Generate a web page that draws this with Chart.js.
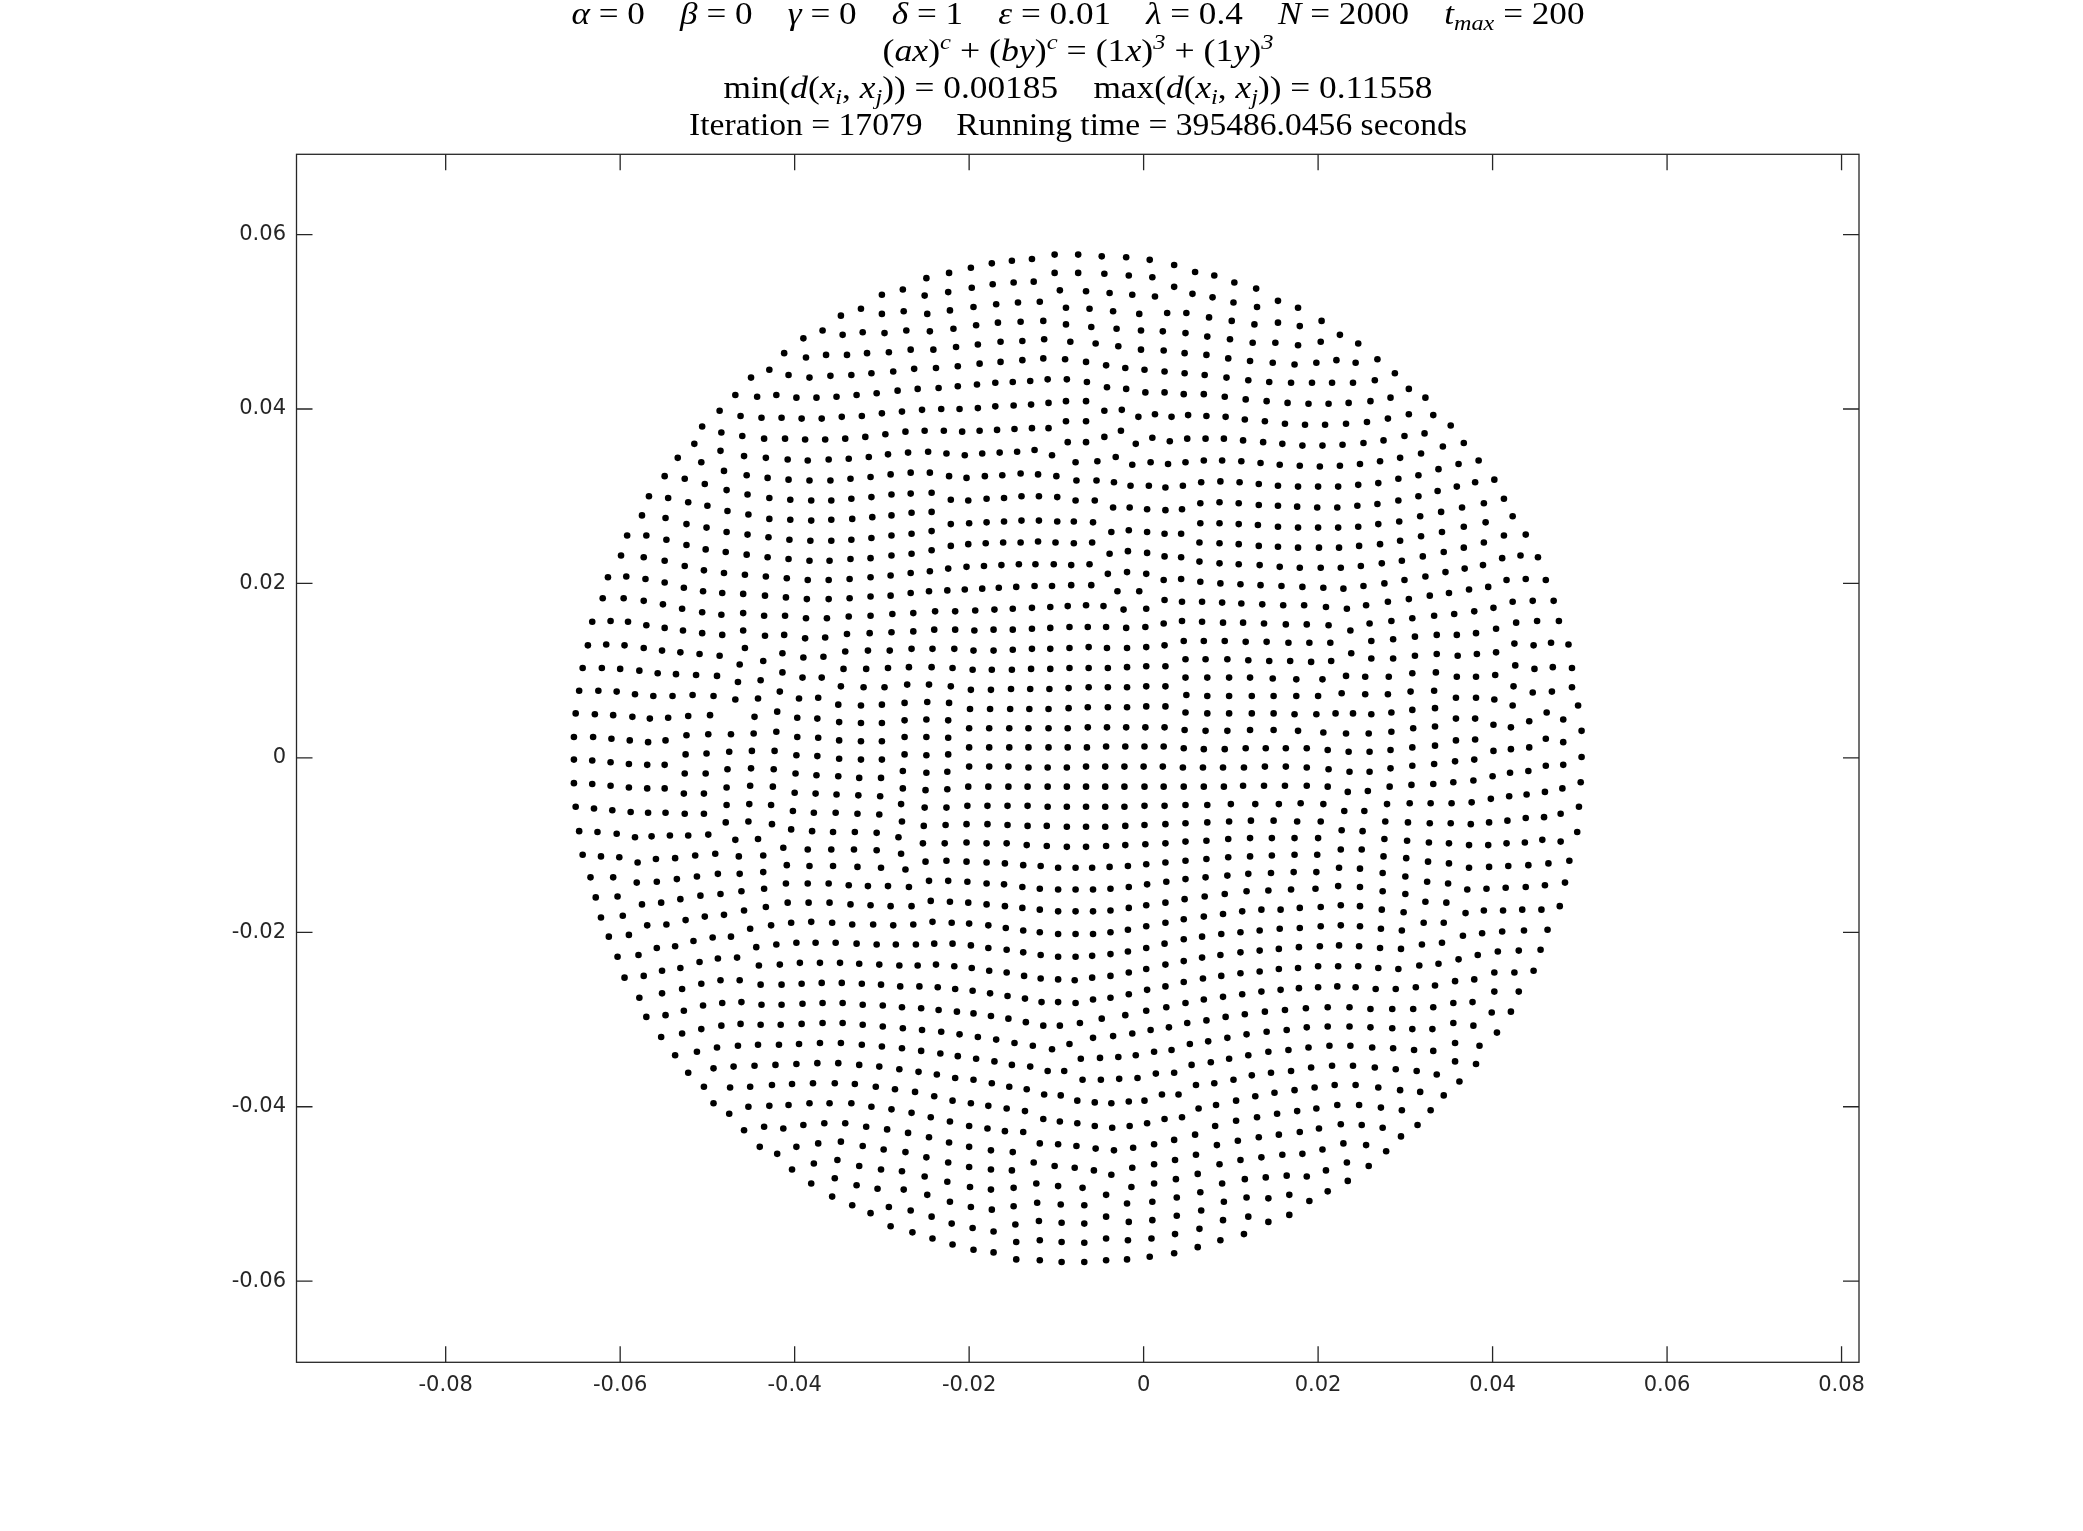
<!DOCTYPE html>
<html>
<head>
<meta charset="utf-8">
<title>Point distribution</title>
<script src="https://cdn.jsdelivr.net/npm/chart.js@4/dist/chart.umd.min.js"></script>
<style>
  html, body { margin: 0; background: #fff; }
  canvas { display: block; }
</style>
</head>
<body>
<canvas id="myChart" width="2083" height="1531"></canvas>
<script>
// positions, one list per part of the disc, in units of 0.0001
const valueUnit = 1e-4;

const upperLeft = [[-102,577],[-75,577],[-128,572],[-151,570],[-174,567],[-198,562],[-223,556],[-249,550],[-276,537],[-300,531],
[-102,556],[-75,556],[-126,546],[-149,545],[-173,543],[-197,539],[-224,534],[-251,530],[-96,536],
[-324,515],[-347,507],[-300,509],[-275,512],[-248,509],[-222,513],[-195,517],[-169,520],[-144,522],[-119,523],[-89,516],
[-368,490],[-390,481],[-345,485],[-322,488],[-297,487],[-272,490],[-245,489],[-218,492],[-192,496],[-167,499],[-141,500],[-115,501],[-89,497],
[-412,464],[-387,459],[-364,462],[-340,462],[-317,464],[-292,465],[-267,468],[-241,468],[-215,471],[-190,474],[-164,477],[-139,478],[-114,480],[-84,477],
[-429,445],[-450,436],[-407,439],[-383,436],[-359,438],[-335,439],[-312,441],[-287,443],[-263,446],[-238,447],[-213,449],[-188,452],[-164,454],[-139,456],[-115,458],[-90,457],
[-468,416],[-443,414],[-421,416],[-398,413],[-375,413],[-352,414],[-329,416],[-306,418],[-282,421],[-259,423],[-235,424],[-213,426],[-191,428],[-170,430],[-150,431],[-130,432],[-110,434],[-88,434],
[-486,398],[-462,392],[-438,390],[-415,390],[-392,389],[-369,389],[-346,391],[-323,392],[-300,395],[-277,397],[-254,399],[-232,400],[-211,400],[-190,401],[-170,403],[-149,404],[-129,405],[-109,407],[-89,409],
[-506,380],[-484,373],[-460,369],[-435,366],[-411,366],[-388,365],[-365,365],[-342,366],[-319,368],[-296,371],[-273,374],[-251,375],[-229,375],[-208,374],[-188,375],[-168,376],[-148,377],[-128,378],[-109,378],[-89,386],
[-515,360],[-534,344],[-507,339],[-485,352],[-458,346],[-433,344],[-408,342],[-385,341],[-361,342],[-338,343],[-315,345],[-293,348],[-270,350],[-247,351],[-226,349],[-205,347],[-185,349],[-165,350],[-145,351],[-125,353],[-105,347],[-87,362],
[-549,323],[-526,320],[-503,314],[-481,329],[-455,324],[-431,321],[-407,319],[-383,318],[-359,318],[-336,320],[-313,322],[-290,325],[-267,327],[-245,327],[-223,323],[-203,321],[-182,323],[-162,324],[-141,326],[-121,325],[-100,323],[-78,339],[-77,318],
[-567,300],[-545,298],[-522,293],[-500,289],[-478,307],[-454,302],[-429,298],[-405,296],[-381,295],[-358,295],[-335,297],[-312,299],[-289,302],[-267,303],[-243,304],[-221,296],[-201,295],[-180,297],[-160,298],[-140,300],[-120,300],[-99,299],[-78,295],
[-575,278],[-548,275],[-477,283],[-453,279],[-429,274],[-405,273],[-381,272],[-358,273],[-334,274],[-311,276],[-289,278],[-266,281],[-243,282]];

const upperRight = [[-48,575],[-20,574],[7,571],[35,565],[59,557],[81,553],[104,545],[129,538],
[-45,555],[-17,553],[10,551],[35,540],[56,532],[79,528],[103,522],[130,517],[154,524],[177,516],
[-66,535],[-39,533],[-13,531],[13,529],
[-62,515],[-35,512],[-5,509],[27,510],[49,510],[75,505],[101,501],[127,497],[154,499],[179,495],[204,501],
[-60,494],[-31,492],[-3,490],[22,489],[48,487],[73,483],[99,480],[125,476],[151,476],[177,473],[203,477],[225,485],[246,475],
[-55,475],[-29,472],[-3,468],[23,467],[47,464],[72,462],[97,458],[122,455],[148,453],[173,451],[198,453],[221,456],[243,453],[268,457],[288,441],
[-66,454],[-43,450],[-21,447],[1,445],[24,443],[47,441],[70,439],[95,436],[120,433],[144,431],[169,430],[193,430],[216,430],[240,430],[265,433],[304,423],[323,413],
[-65,431],[-42,425],[-20,423],[2,419],[24,419],[46,417],[69,417],[93,414],[117,411],[141,409],[165,407],[189,406],[212,406],[235,407],[260,409],[283,413],
[-66,409],[-45,398],[-25,399],[-6,391],[13,394],[32,391],[51,393],[72,392],[94,391],[116,388],[139,386],[162,383],[185,382],[208,382],[232,383],[256,385],[280,389],[304,394],[332,393],[352,381],
[-66,386],[-45,368],[-26,375],[-9,360],[10,367],[30,363],[50,366],[71,366],[92,366],[114,364],[137,362],[159,360],[182,358],[205,358],[228,359],[252,361],[275,364],[299,369],[322,372],[343,357],[367,361],
[-66,362],[-53,340],[-32,345],[-13,336],[8,339],[28,337],[48,339],[69,341],[90,341],[112,340],[134,338],[156,336],[179,335],[202,334],[225,335],[248,337],[271,340],[294,344],[318,349],[338,331],[361,337],[384,341],
[-54,318],[-34,316],[-15,312],[6,312],[25,310],[45,312],[66,316],[88,317],[110,316],[132,314],[154,312],[177,311],[200,311],[223,311],[246,313],[269,315],[292,320],[315,324],[337,306],[359,311],[380,316],[402,319],
[-56,295],[-35,287],[-16,287],[4,285],[25,284],[44,285],[65,292],[87,293],[109,292],[132,290],[154,289],[176,288],[199,287],[222,287],[245,289],[268,291],[292,295],[315,300],[341,282],[365,287],[390,292],[413,297],[317,277],[423,277]];

const middleLeft = [[-524,268],[-501,264],[-478,259],[-454,256],[-430,253],[-406,250],[-382,249],[-358,249],[-335,250],[-312,252],[-289,255],[-266,257],[-243,260],[-221,268],[-200,269],[-180,270],[-160,271],[-140,272],[-120,272],[-99,271],[-80,271],
[-592,255],[-570,255],[-547,250],[-524,244],[-502,239],[-479,236],[-455,233],[-431,230],[-407,228],[-383,226],[-360,226],[-336,228],[-313,229],[-289,232],[-266,234],[-243,238],[-221,243],[-201,245],[-181,246],[-161,247],[-141,247],[-121,248],[-101,247],[-80,246],
[-599,232],[-573,230],[-549,226],[-526,220],[-504,215],[-481,212],[-457,210],[-433,208],[-409,206],[-385,204],[-361,204],[-337,205],[-313,207],[-290,209],[-267,212],[-245,214],[-224,217],[-203,219],[-183,220],[-163,221],[-143,222],[-124,222],[-103,222],[-83,221],
[-614,207],[-593,208],[-571,205],[-549,201],[-527,195],[-505,191],[-483,189],[-459,188],[-434,186],[-410,184],[-386,182],[-361,182],[-337,183],[-313,185],[-290,186],[-267,189],[-246,191],[-225,192],[-205,193],[-185,194],[-166,195],[-146,196],[-125,197],[-105,197],[-83,198],
[-620,183],[-596,183],[-573,180],[-551,176],[-529,171],[-506,167],[-484,164],[-459,166],[-435,163],[-411,163],[-387,160],[-363,160],[-338,162],[-313,163],[-288,165],[-264,166],[-239,168],[-216,168],[-193,169],[-171,170],[-150,171],[-128,172],[-107,173],[-87,174],
[-632,156],[-611,157],[-591,156],[-570,152],[-549,149],[-528,146],[-506,143],[-483,141],[-459,146],[-434,140],[-412,141],[-388,137],[-365,138],[-340,142],[-314,143],[-289,144],[-264,145],[-240,147],[-216,147],[-194,146],[-172,147],[-150,147],[-128,148],[-107,149],[-85,150],
[-637,129],[-616,130],[-595,129],[-573,126],[-552,123],[-531,121],[-509,119],[-486,117],[-457,126],[-436,111],[-414,120],[-390,115],[-367,116],[-342,122],[-316,123],[-291,123],[-266,125],[-242,125],[-217,125],[-195,123],[-172,123],[-150,124],[-128,125],[-107,125],[-85,126],
[-643,103],[-621,103],[-600,102],[-578,100],[-557,97],[-536,96],[-513,95],[-489,94],[-463,107],[-439,89],[-414,98],[-391,92],[-369,92],[-344,102],[-318,102],[-293,103],[-269,104],[-243,104],[-219,103],[-196,101],[-174,101],[-151,101],[-129,102],[-107,102],[-85,103],
[-647,77],[-625,77],[-604,76],[-583,73],[-562,71],[-540,71],[-517,72],[-493,71],[-465,87],[-442,68],[-417,76],[-395,68],[-373,69],[-347,82],[-321,81],[-297,81],[-271,84],[-246,84],[-221,82],[-198,78],[-175,78],[-152,79],[-130,79],[-108,79],[-86,80],
[-651,51],[-629,50],[-608,49],[-586,47],[-566,45],[-545,46],[-522,48],[-497,49],[-468,67],[-446,47],[-420,53],[-397,46],[-374,45],[-350,61],[-324,60],[-300,61],[-274,63],[-248,64],[-223,63],[-199,56],[-176,56],[-153,56],[-131,56],[-109,56],[-86,57],
[-653,24],[-631,24],[-610,22],[-589,20],[-568,18],[-548,20],[-524,26],[-499,27],[-473,27],[-447,28],[-421,30],[-397,24],[-373,23],[-349,41],[-324,40],[-300,40],[-274,43],[-249,44],[-224,43],[-200,34],[-177,34],[-154,34],[-132,34],[-109,34],[-87,34],
[-653,-2],[-632,-3],[-611,-5],[-590,-7],[-569,-8],[-549,-8],[-525,4],[-501,5],[-475,7],[-449,8],[-423,8],[-398,3],[-374,2],[-349,20],[-324,19],[-300,19],[-274,24],[-249,24],[-224,23],[-200,12],[-177,12],[-154,12],[-132,12],[-109,12],[-87,12],
[-653,-29],[-632,-30],[-611,-32],[-590,-34],[-569,-35],[-549,-35],[-526,-18],[-502,-18],[-477,-13],[-450,-12],[-424,-13],[-399,-18],[-375,-20],[-349,-1],[-324,-2],[-300,-2],[-274,4],[-249,3],[-224,4],[-200,-10],[-177,-10],[-155,-10],[-132,-11],[-110,-11],[-88,-11],
[-527,-41],[-504,-41],[-478,-34],[-451,-32],[-425,-33],[-400,-40],[-376,-41],[-350,-21],[-326,-23],[-301,-23],[-276,-15],[-249,-17],[-225,-16],[-201,-33],[-178,-33],[-155,-33],[-133,-33],[-110,-33],[-88,-33],
[-352,-42],[-327,-43],[-302,-44],[-276,-35],[-250,-37],[-225,-36]];

const middleRight = [[-58,270],[-37,259],[-17,261],[4,259],[24,257],[43,257],[65,269],[87,269],[109,268],[131,267],[154,265],[177,264],[200,264],[223,264],[246,265],[269,268],[293,271],[318,254],[342,259],[367,265],[392,270],[413,255],[438,256],
[-59,247],[-39,234],[-18,237],[4,235],[24,231],[43,230],[64,247],[87,246],[109,245],[132,243],[154,242],[177,241],[201,241],[224,241],[247,243],[271,245],[294,249],[320,231],[344,236],[367,241],[390,247],[411,229],[432,232],[452,230],
[-62,222],[-41,211],[-19,213],[3,211],[23,204],[43,205],[64,225],[87,223],[109,222],[133,221],[156,219],[179,218],[203,218],[226,218],[249,220],[273,223],[296,226],[323,208],[346,213],[368,217],[389,221],[416,204],[438,205],[461,204],
[-60,198],[-30,191],[-5,191],[24,181],[44,179],[65,202],[88,200],[111,199],[134,198],[158,197],[182,196],[206,195],[229,194],[252,197],[276,200],[299,204],[328,186],[350,189],[373,193],[395,196],[423,179],[446,180],[470,180],
[-66,175],[-46,174],[-23,170],[3,171],[67,179],[90,178],[112,177],[136,176],[160,175],[184,175],[209,173],[233,171],[255,175],[280,179],[304,182],[356,165],[379,168],[401,172],[333,163],
[-64,150],[-43,150],[-20,149],[2,150],[23,154],[44,157],[67,156],[91,155],[114,155],[138,154],[163,153],[187,153],[212,152],[237,146],[259,154],[284,157],[308,160],[336,141],[359,141],[381,143],[404,148],[427,155],[451,157],[476,157],
[-63,127],[-42,126],[-19,126],[3,127],[24,129],[46,134],[69,134],[93,134],[117,133],[141,133],[166,132],[190,132],[214,132],[261,134],[286,136],[311,139],[336,119],[360,117],[382,119],[404,121],[425,131],[447,129],[467,132],[487,130],
[-63,103],[-41,103],[-19,104],[3,105],[25,105],[48,113],[71,113],[96,113],[120,112],[144,111],[168,111],[192,110],[215,111],[238,120],[261,114],[286,114],[311,117],[335,98],[359,93],[381,93],[403,95],[426,106],[448,102],[469,104],[491,103],
[-63,81],[-41,81],[-19,81],[3,82],[25,82],[48,92],[73,92],[98,92],[122,92],[148,91],[175,90],[205,90],[232,94],[254,93],[281,93],[308,97],[333,77],[358,69],[381,69],[402,67],[424,82],[446,75],[468,76],[491,81],
[-64,58],[-41,58],[-19,58],[3,59],[25,59],[49,72],[73,71],[98,71],[124,71],[149,71],[175,71],[200,71],[227,74],[254,73],[280,73],[306,76],[334,57],[358,45],[380,45],[401,38],[421,35],[442,42],[423,60],[462,52],[481,44],[498,60],
[-64,35],[-42,35],[-20,35],[2,35],[24,35],[48,52],[73,51],[98,51],[124,51],[149,51],[173,50],[198,50],[220,51],[240,51],[261,50],[284,52],[308,55],[334,36],[358,20],[380,21],[401,8],[421,10],[442,12],[461,22],[481,18],[502,31],
[-65,12],[-43,13],[-21,13],[1,13],[23,13],[47,32],[71,31],[96,31],[122,32],[149,32],[177,31],[206,29],[232,28],[258,28],[284,30],[309,34],[334,14],[357,-4],[379,-2],[400,-21],[420,-17],[441,-15],[461,-9],[481,-8],[502,1],
[-66,-10],[-44,-10],[-22,-10],[0,-10],[22,-10],[46,11],[69,10],[93,10],[117,11],[140,11],[163,11],[187,11],[211,9],[235,7],[259,7],[283,9],[308,12],[333,-7],[355,-28],[378,-26],[398,-47],[419,-44],[439,-42],[460,-39],[480,-35],[501,-28],
[-66,-33],[-44,-33],[-22,-33],[1,-33],[23,-33],[45,-11],[68,-11],[91,-11],[115,-11],[139,-10],[163,-10],[187,-11],[212,-13],[236,-16],[259,-16],[283,-12],[308,-9],[332,-30],
[46,-33],[69,-33],[92,-33],[114,-32],[138,-32],[162,-32],[187,-32],[211,-33],[234,-39],[257,-38],[282,-33],[307,-31]];

const lowerLeft = [[-651,-56],[-630,-58],[-609,-60],[-588,-62],[-568,-63],[-548,-63],[-526,-64],[-504,-64],[-478,-54],[-452,-53],[-427,-54],[-402,-61],[-378,-63],[-353,-63],[-328,-64],[-303,-65],[-278,-53],[-251,-57],[-226,-57],[-202,-55],[-179,-55],[-156,-55],[-133,-55],[-110,-56],[-88,-56],
[-647,-84],[-626,-85],[-604,-87],[-583,-91],[-564,-90],[-543,-89],[-522,-89],[-499,-88],[-479,-74],[-453,-73],[-426,-76],[-404,-82],[-380,-84],[-356,-85],[-331,-85],[-306,-86],[-277,-73],[-252,-78],[-227,-77],[-203,-76],[-179,-76],[-156,-77],[-133,-78],[-111,-78],[-88,-79],
[-643,-111],[-622,-113],[-601,-114],[-580,-120],[-559,-116],[-537,-115],[-514,-112],[-491,-110],[-468,-94],[-442,-93],[-413,-103],[-385,-105],[-358,-105],[-332,-105],[-306,-106],[-281,-91],[-253,-98],[-228,-98],[-203,-97],[-180,-98],[-157,-98],[-134,-100],[-111,-101],[-88,-102],
[-634,-137],[-608,-137],[-581,-143],[-558,-142],[-535,-139],[-512,-136],[-488,-133],[-464,-113],[-436,-112],[-409,-123],[-383,-124],[-356,-124],[-328,-125],[-301,-126],[-278,-110],[-250,-119],[-226,-118],[-203,-119],[-180,-120],[-159,-121],[-138,-123],[-118,-124],[-98,-126],[-78,-126],
[-628,-160],[-603,-159],[-575,-168],[-553,-166],[-531,-162],[-508,-158],[-485,-156],[-463,-133],[-436,-131],[-410,-144],[-385,-144],[-361,-144],[-338,-146],[-316,-147],[-293,-147],[-273,-128],[-269,-148],[-246,-141],[-224,-141],[-202,-142],[-180,-144],[-160,-145],[-139,-148],[-119,-150],[-98,-151],[-78,-151],
[-622,-183],[-597,-181],[-569,-192],[-547,-191],[-525,-186],[-503,-182],[-481,-180],[-461,-153],[-435,-150],[-408,-166],[-384,-166],[-360,-166],[-336,-168],[-313,-169],[-290,-170],[-266,-170],[-244,-164],[-222,-165],[-201,-166],[-180,-168],[-159,-170],[-139,-172],[-119,-174],[-98,-176],[-78,-176],
[-613,-205],[-590,-203],[-558,-218],[-537,-216],[-516,-210],[-494,-206],[-473,-205],[-458,-175],[-433,-171],[-404,-189],[-381,-188],[-357,-189],[-334,-191],[-310,-191],[-287,-192],[-264,-191],[-242,-188],[-220,-189],[-200,-190],[-178,-192],[-158,-195],[-138,-198],[-119,-200],[-98,-202],[-78,-202],
[-603,-228],[-579,-226],[-552,-244],[-531,-241],[-509,-234],[-488,-230],[-466,-229],[-451,-196],[-427,-192],[-398,-212],[-376,-212],[-353,-212],[-329,-213],[-306,-214],[-284,-214],[-261,-214],[-240,-213],[-219,-213],[-198,-215],[-178,-218],[-157,-220],[-138,-223],[-118,-226],[-98,-228],[-78,-228],
[-595,-252],[-573,-250],[-552,-270],[-529,-265],[-507,-259],[-485,-255],[-463,-255],[-444,-217],[-421,-214],[-394,-235],[-371,-235],[-348,-235],[-326,-236],[-303,-237],[-280,-238],[-259,-238],[-238,-237],[-217,-239],[-197,-241],[-177,-244],[-157,-246],[-137,-250],[-118,-253],[-98,-254],[-79,-255],
[-578,-275],[-570,-297],[-548,-295],[-527,-290],[-505,-284],[-483,-281],[-461,-280],[-441,-238],[-417,-237],[-392,-259],[-369,-258],[-346,-258],[-323,-259],[-301,-260],[-279,-262],[-257,-262],[-236,-263],[-216,-265],[-196,-267],[-176,-270],[-156,-273],[-136,-276],[-117,-280],[-98,-280],[-78,-281],
[-439,-260],[-415,-260],[-438,-283],[-415,-283],[-391,-282],[-368,-281],[-345,-281],[-322,-283],[-299,-284],[-277,-286],[-255,-287],[-235,-289],[-214,-291],[-195,-293],[-175,-296],[-155,-299],[-135,-303],[-115,-307],[-96,-307],
[-553,-320],[-529,-316],[-507,-311],[-484,-307],[-462,-305],[-439,-306],[-416,-306],[-392,-305],[-368,-304],[-345,-304],[-322,-306],[-299,-308],[-276,-310],[-254,-312],[-232,-314],[-211,-317],[-190,-320],[-169,-323],[-148,-327],[-127,-330],[-105,-334],[-85,-328],
[-537,-341],[-512,-337],[-489,-332],[-465,-330],[-442,-329],[-418,-329],[-395,-328],[-371,-327],[-347,-327],[-323,-329],[-300,-331],[-277,-333],[-255,-336],[-233,-339],[-213,-342],[-192,-345],[-171,-348],[-151,-352],[-130,-354],[-110,-359],[-91,-359],
[-522,-361],[-493,-356],[-470,-354],[-446,-353],[-422,-352],[-398,-351],[-374,-350],[-350,-350],[-326,-352],[-303,-354],[-280,-357],[-258,-360],[-237,-363],[-216,-367],[-195,-369]];

const lowerRight = [[-66,-56],[-44,-56],[-22,-56],[1,-55],[24,-55],[48,-54],[73,-54],[100,-53],[128,-53],[155,-53],[180,-52],[206,-53],[230,-61],[253,-61],[279,-53],[305,-52],[329,-52],[353,-52],[376,-51],[499,-56],[478,-64],[459,-68],[438,-69],[417,-72],[396,-74],[375,-76],[352,-75],[328,-75],[303,-74],[277,-73],
[-66,-79],[-44,-79],[-21,-78],[1,-77],[25,-76],[48,-75],[73,-74],[98,-73],[123,-72],[149,-72],[176,-73],[203,-73],[227,-83],[251,-84],[497,-85],[478,-96],[457,-94],[437,-97],[416,-98],[395,-100],[373,-100],[350,-98],[327,-97],[302,-95],[276,-93],
[-66,-102],[-43,-101],[-21,-100],[2,-99],[25,-98],[48,-96],[72,-95],[97,-93],[122,-92],[147,-92],[173,-92],[200,-92],[226,-105],[250,-105],[275,-113],[301,-115],[326,-119],[350,-121],[373,-126],[396,-125],[418,-124],[441,-123],[464,-121],[488,-118],
[-59,-126],[-39,-125],[-18,-124],[3,-122],[25,-120],[48,-118],[72,-116],[97,-114],[122,-113],[147,-112],[173,-111],[199,-111],[224,-126],[248,-127],[274,-132],[300,-136],[325,-142],[349,-144],[371,-151],[393,-150],[415,-149],[438,-148],[460,-146],[483,-143],
[-58,-151],[-38,-150],[-17,-148],[4,-145],[26,-142],[48,-139],[71,-137],[96,-135],[120,-133],[146,-132],[172,-131],[198,-131],[223,-147],[248,-148],[274,-153],[300,-156],[323,-165],[347,-166],[369,-178],[390,-175],[412,-175],[434,-174],[456,-174],[477,-170],
[-58,-176],[-38,-175],[-17,-172],[3,-169],[25,-166],[47,-162],[70,-159],[93,-156],[118,-153],[143,-152],[169,-151],[197,-150],[91,-179],[113,-176],[135,-174],[157,-174],[179,-172],[203,-171],[226,-169],[248,-170],[273,-174],[298,-177],[321,-189],[344,-189],[366,-204],[388,-201],[411,-199],[436,-198],[463,-197],
[-58,-202],[-38,-200],[-18,-197],[3,-193],[25,-189],[46,-185],[69,-182],[67,-205],[89,-202],[111,-200],[133,-198],[156,-196],[179,-195],[203,-193],[226,-192],[248,-193],[272,-196],[296,-198],[319,-214],[342,-212],[361,-231],[383,-226],[406,-222],[430,-221],[455,-220],
[-59,-227],[-38,-225],[-18,-222],[3,-218],[24,-213],[46,-208],[67,-229],[88,-226],[111,-223],[133,-221],[155,-219],[178,-217],[202,-216],[224,-215],[247,-216],[271,-218],[295,-219],[316,-238],[338,-236],[357,-256],[379,-254],[402,-246],[425,-246],[447,-244],
[-59,-252],[-38,-250],[-17,-246],[3,-242],[25,-237],[46,-233],[68,-253],[89,-250],[111,-247],[133,-245],[155,-242],[177,-241],[200,-239],[223,-239],[246,-239],[269,-241],[292,-242],[312,-263],[334,-261],
[-58,-277],[-38,-275],[-17,-271],[4,-266],[25,-262],[46,-257],[69,-277],[91,-274],[113,-271],[135,-268],[157,-266],[178,-264],[200,-263],[222,-262],[243,-263],[266,-265],[289,-265],[355,-281],[377,-280],[402,-268],[430,-268],
[-73,-304],[-48,-299],[-21,-295],[3,-290],[26,-286],[48,-281],[72,-301],[94,-297],[116,-294],[139,-291],[162,-289],[186,-287],[211,-286],[236,-286],[260,-288],[285,-288],[309,-288],[332,-286],[355,-304],[378,-307],[399,-292],[421,-291],
[-58,-321],[-35,-319],[-13,-316],[8,-312],[29,-309],[50,-304],[74,-325],[96,-321],[118,-317],[141,-314],[164,-312],[187,-309],[211,-308],[236,-308],[260,-309],[285,-310],[308,-311],[331,-311],[357,-327],[385,-330],[405,-315],
[-72,-345],[-50,-344],[-29,-343],[-9,-341],[12,-337],[32,-335],[53,-328],[77,-349],[55,-352],[98,-345],[120,-341],[143,-337],[166,-335],[189,-332],[213,-330],[237,-330],[262,-332],[286,-333],[310,-335],[332,-336],[357,-348],[381,-351],
[192,-355],[216,-353],[240,-353],[265,-355],[289,-357],[313,-359]];

const bottomLeft = [[-174,-373],[-154,-377],[-134,-380],[-504,-377],[-474,-378],[-451,-377],[-426,-375],[-403,-374],[-379,-373],[-354,-373],[-331,-374],[-307,-377],[-285,-380],[-262,-383],[-240,-388],[-219,-393],[-198,-396],[-178,-399],[-157,-402],[-136,-405],[-114,-386],[-95,-387],[-76,-393],
[-493,-396],[-475,-408],[-453,-400],[-429,-399],[-407,-398],[-383,-396],[-360,-396],[-335,-396],[-312,-400],[-289,-403],[-266,-407],[-244,-412],[-222,-417],[-200,-422],[-179,-425],[-159,-428],[-138,-429],[-115,-414],[-96,-417],[-76,-419],
[-458,-427],[-435,-423],[-413,-425],[-390,-421],[-366,-419],[-342,-419],[-318,-423],[-294,-426],[-270,-430],[-246,-435],[-223,-441],[-200,-446],[-175,-450],[-150,-452],[-119,-442],[-98,-443],[-77,-445],
[-440,-446],[-420,-454],[-398,-446],[-373,-442],[-347,-440],[-322,-445],[-298,-449],[-273,-452],[-249,-458],[-224,-464],[-200,-469],[-175,-472],[-151,-473],[-126,-464],[-102,-468],[-79,-470],
[-403,-472],[-378,-465],[-351,-461],[-326,-468],[-301,-472],[-277,-474],[-251,-480],[-225,-486],[-199,-492],[-175,-495],[-149,-493],[-123,-488],[-98,-491],
[-381,-488],[-354,-482],[-329,-490],[-305,-494],[-275,-495],[-248,-501],[-222,-509],[-198,-515],[-174,-518],[-149,-514],[-122,-510],[-95,-512],
[-357,-503],[-334,-513],[-313,-522],[-292,-515],[-267,-519],[-243,-526],[-220,-534],[-196,-539],[-172,-543],[-147,-535],[-120,-531],[-94,-533],
[-290,-537],[-265,-544],[-242,-551],[-219,-558],[-195,-564],[-172,-567],[-146,-555],[-119,-553],[-94,-555],
[-146,-575],[-119,-576],[-94,-578]];

const bottomRight = [[-70,-369],[-49,-369],[-28,-368],[-7,-367],[14,-362],[35,-361],[60,-375],[81,-373],[103,-369],[124,-364],[146,-361],[169,-359],[336,-363],[362,-371],
[-56,-395],[-37,-396],[-17,-394],[1,-393],[21,-386],[40,-386],[63,-402],[83,-398],[106,-393],[128,-388],[150,-384],[173,-381],[196,-378],[219,-375],[243,-375],[269,-378],[294,-381],[317,-383],[344,-387],
[-56,-422],[-36,-424],[-16,-422],[4,-419],[24,-414],[44,-412],[82,-422],[106,-416],[130,-412],[153,-408],[176,-405],[198,-402],[222,-398],[247,-398],[272,-401],[296,-404],[329,-404],
[-55,-448],[-34,-450],[-12,-447],[12,-443],[35,-438],[59,-432],[84,-444],[108,-439],[132,-435],[155,-432],[179,-429],[201,-425],[226,-420],[250,-421],[274,-424],[314,-421],
[-57,-473],[-37,-478],[-13,-470],[12,-466],[36,-461],[60,-455],[87,-466],[111,-461],[135,-458],[159,-455],[182,-454],[205,-449],[229,-442],[255,-444],[295,-434],
[-70,-493],[-14,-492],[12,-488],[37,-483],[62,-477],[90,-488],[116,-483],[140,-481],[164,-479],[187,-480],[209,-473],[233,-464],[258,-468],[278,-451],
[-43,-501],[-68,-513],[-19,-511],[10,-509],[38,-504],[65,-498],[92,-509],[118,-504],[143,-505],[167,-501],[190,-508],[211,-497],[234,-485],
[-43,-526],[-68,-534],[-17,-532],[10,-530],[38,-525],[66,-519],[91,-530],[120,-526],[143,-532],[167,-524],
[-43,-551],[-68,-556],[-18,-553],[9,-551],[36,-546],[64,-540],[88,-553],[115,-546],
[-68,-578],[-43,-576],[-19,-575],[7,-572],[35,-568],[62,-561]];

const xTickValues = [-0.08, -0.06, -0.04, -0.02, 0, 0.02, 0.04, 0.06, 0.08];
const yTickValues = [-0.06, -0.04, -0.02, 0, 0.02, 0.04, 0.06];

// {..} italic, _{..} subscript, ^{..} superscript
const titleLines = [
  '{α} = 0    {β} = 0    {γ} = 0    {δ} = 1    {ε} = 0.01    {λ} = 0.4    {N} = 2000    {t}_{max} = 200',
  '({ax})^{c} + ({by})^{c} = (1{x})^{3} + (1{y})^{3}',
  'min({d}({x}_{i}, {x}_{j})) = 0.00185    max({d}({x}_{i}, {x}_{j})) = 0.11558',
  'Iteration = 17079    Running time = 395486.0456 seconds'
];

// each line is stretched to the width it has in the picture (the math face there is wider)
const titleWidths = [1013, 391, 709, 778];
const titleBaselines = [24, 61, 98, 135];
const titleFontSize = 32;
const titleCenter = 1078;

function parseRuns(line) {
  const runs = [];
  const re = /_\{([^}]*)\}|\^\{([^}]*)\}|\{([^}]*)\}|([^_^{]+)/g;
  let m;
  while ((m = re.exec(line))) {
    if (m[1] !== undefined) runs.push({ text: m[1], kind: 'sub' });
    else if (m[2] !== undefined) runs.push({ text: m[2], kind: 'sup' });
    else if (m[3] !== undefined) runs.push({ text: m[3], kind: 'it' });
    else runs.push({ text: m[4], kind: 'rm' });
  }
  return runs;
}

function runFont(kind) {
  const serif = '"Liberation Serif", serif';
  if (kind === 'it') return 'italic ' + titleFontSize + 'px ' + serif;
  if (kind === 'sub' || kind === 'sup') return 'italic ' + Math.round(titleFontSize * 0.7) + 'px ' + serif;
  return titleFontSize + 'px ' + serif;
}

const mathTitle = {
  id: 'mathTitle',
  afterDraw(chart) {
    const ctx = chart.ctx;
    ctx.save();
    ctx.fillStyle = '#000';
    ctx.textBaseline = 'alphabetic';
    ctx.textAlign = 'left';
    titleLines.forEach((line, i) => {
      const runs = parseRuns(line);
      let width = 0;
      runs.forEach(r => { ctx.font = runFont(r.kind); width += ctx.measureText(r.text).width; });
      const stretch = titleWidths[i] / width;
      ctx.save();
      ctx.translate(titleCenter - titleWidths[i] / 2, 0);
      ctx.scale(stretch, 1);
      let x = 0;
      runs.forEach(r => {
        ctx.font = runFont(r.kind);
        let y = titleBaselines[i];
        if (r.kind === 'sub') y += 6;
        if (r.kind === 'sup') y -= 12;
        ctx.fillText(r.text, x, y);
        x += ctx.measureText(r.text).width;
      });
      ctx.restore();
    });
    ctx.restore();
  }
};

// box and inward ticks on all four sides
const boxTicks = {
  id: 'boxTicks',
  afterDraw(chart) {
    const { ctx, chartArea: a, scales } = chart;
    ctx.save();
    ctx.strokeStyle = '#262626';
    ctx.lineWidth = 1.3;
    ctx.strokeRect(a.left, a.top, a.right - a.left, a.bottom - a.top);
    ctx.beginPath();
    xTickValues.forEach(v => {
      const x = scales.x.getPixelForValue(v);
      ctx.moveTo(x, a.bottom); ctx.lineTo(x, a.bottom - 16);
      ctx.moveTo(x, a.top); ctx.lineTo(x, a.top + 16);
    });
    yTickValues.forEach(v => {
      const y = scales.y.getPixelForValue(v);
      ctx.moveTo(a.left, y); ctx.lineTo(a.left + 16, y);
      ctx.moveTo(a.right, y); ctx.lineTo(a.right - 16, y);
    });
    ctx.stroke();
    ctx.restore();
  }
};

const allPoints = [].concat(upperLeft, upperRight, middleLeft, middleRight, lowerLeft, lowerRight, bottomLeft, bottomRight);

const tickFont = { family: '"DejaVu Sans"', size: 21 };

new Chart(document.getElementById('myChart'), {
  type: 'scatter',
  data: {
    datasets: [{
      data: allPoints.map(p => ({ x: p[0] * valueUnit, y: p[1] * valueUnit })),
      backgroundColor: '#000',
      borderWidth: 0,
      pointRadius: 3.3
    }]
  },
  options: {
    responsive: false,
    animation: false,
    devicePixelRatio: 1,
    layout: { padding: { top: 154.3, right: 224, bottom: 0, left: 0 } },
    plugins: { legend: { display: false }, title: { display: false }, tooltip: { enabled: false } },
    scales: {
      x: {
        type: 'linear',
        min: -0.0971,
        max: 0.082,
        afterBuildTicks: s => { s.ticks = xTickValues.map(v => ({ value: v })); },
        afterFit: s => { s.height = 168.7; },
        grid: { display: false },
        border: { display: false },
        ticks: { font: tickFont, color: '#262626', padding: 3, maxRotation: 0, autoSkip: false, callback: v => String(+v.toFixed(2)) }
      },
      y: {
        type: 'linear',
        min: -0.0693,
        max: 0.0692,
        afterBuildTicks: s => { s.ticks = yTickValues.map(v => ({ value: v })); },
        afterFit: s => { s.width = 296.5; },
        grid: { display: false },
        border: { display: false },
        ticks: { font: tickFont, color: '#262626', padding: 2.5, autoSkip: false, callback: v => String(+v.toFixed(2)) }
      }
    }
  },
  plugins: [boxTicks, mathTitle]
});
</script>
</body>
</html>
